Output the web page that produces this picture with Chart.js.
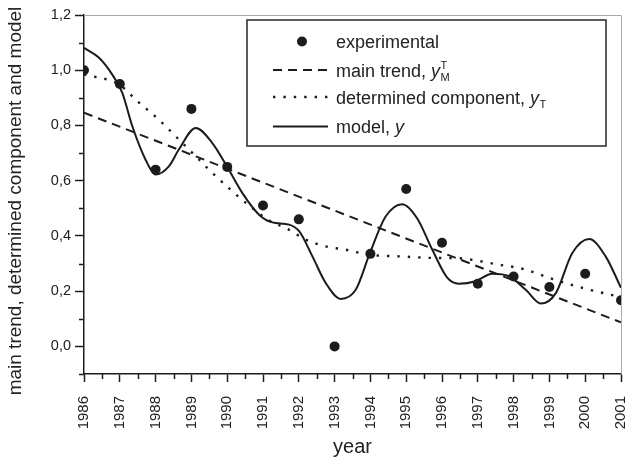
<!DOCTYPE html>
<html>
<head>
<meta charset="utf-8">
<script src="https://cdn.jsdelivr.net/npm/chart.js@4.4.1/dist/chart.umd.min.js"></script>
<style>
html,body{margin:0;padding:0;background:#fff;}
#wrap{width:634px;height:459px;position:relative;}
</style>
</head>
<body>
<div id="wrap"><canvas id="c" width="634" height="459"></canvas></div>
<script>
// ---- data ----
const years = [1986,1987,1988,1989,1990,1991,1992,1993,1994,1995,1996,1997,1998,1999,2000,2001];
const experimental = [1.00,0.95,0.64,0.86,0.65,0.51,0.46,0.00,0.335,0.57,0.375,0.227,0.253,0.215,0.263,0.167];

const trendYears = [1986,2001];
const trendValues = [0.846,0.087];

const determinedYears = [1986.00,1986.98,1987.49,1988.09,1988.65,1989.21,1989.49,1990.14,1990.70,1991.21,1991.63,1992.19,1992.75,1993.31,1993.96,1994.80,1995.92,1996.29,1997.59,1998.34,1998.99,1999.92,2001.00];
const determinedValues = [0.985,0.948,0.888,0.821,0.749,0.677,0.640,0.562,0.501,0.453,0.429,0.387,0.362,0.350,0.332,0.326,0.320,0.320,0.296,0.278,0.248,0.212,0.178];

const modelYears = [1986.00,1986.42,1986.79,1987.07,1987.35,1987.72,1988.00,1988.37,1988.65,1989.12,1989.58,1989.99,1990.42,1990.89,1991.26,1991.73,1992.01,1992.38,1992.75,1993.17,1993.59,1993.98,1994.43,1994.89,1995.30,1995.73,1996.14,1996.47,1996.94,1997.40,1997.87,1998.34,1998.76,1999.18,1999.64,2000.11,2000.57,2001.00];
const modelValues = [1.081,1.045,0.984,0.918,0.797,0.676,0.622,0.652,0.713,0.791,0.737,0.652,0.556,0.477,0.449,0.441,0.417,0.326,0.230,0.172,0.205,0.336,0.471,0.515,0.465,0.350,0.250,0.227,0.236,0.263,0.254,0.205,0.155,0.193,0.338,0.389,0.326,0.212];

const yTickValues = [0.0,0.2,0.4,0.6,0.8,1.0,1.2];
const yMinorTickValues = [-0.1,0.1,0.3,0.5,0.7,0.9,1.1];
const xMinorTickValues = [1986.5,1987.5,1988.5,1989.5,1990.5,1991.5,1992.5,1993.5,1994.5,1995.5,1996.5,1997.5,1998.5,1999.5,2000.5];

const xTitle = 'year';
const yTitle = 'main trend, determined component and model';
const legendTexts = ['experimental','main trend, ','determined component, ','model, '];
const legendSymbol = 'y';
const legendSup = ['', 'T', '', ''];
const legendSub = ['', 'M', 'T', ''];

// ---- drawing ----
const FONT = "'Liberation Sans', Arial, Helvetica, sans-serif";
const INK = '#1c1c1c';
const TEXT = '#222222';

const pts = (xs, ys) => xs.map((x, i) => ({x: x, y: ys[i]}));

const extras = {
  id: 'extras',
  beforeDatasetsDraw(chart) {
    const {ctx, chartArea: a} = chart;
    ctx.save();
    ctx.strokeStyle = '#a8a8a8';
    ctx.lineWidth = 1;
    ctx.beginPath();
    ctx.moveTo(a.left, a.top + 0.5);
    ctx.lineTo(a.right + 0.5, a.top + 0.5);
    ctx.lineTo(a.right + 0.5, a.bottom);
    ctx.stroke();
    ctx.restore();
  },
  afterDraw(chart) {
    const {ctx, chartArea: a, scales} = chart;
    const xs = scales.x, ys = scales.y;
    ctx.save();
    // minor ticks
    ctx.strokeStyle = INK;
    ctx.lineWidth = 1.5;
    ctx.beginPath();
    xMinorTickValues.forEach(v => {
      const px = Math.round(xs.getPixelForValue(v)) + 0.5;
      ctx.moveTo(px, a.bottom);
      ctx.lineTo(px, a.bottom + 5);
    });
    yMinorTickValues.forEach(v => {
      const py = Math.round(ys.getPixelForValue(v)) + 0.5;
      ctx.moveTo(a.left - 5, py);
      ctx.lineTo(a.left, py);
    });
    ctx.stroke();

    // axis titles
    ctx.fillStyle = TEXT;
    ctx.font = '20px ' + FONT;
    ctx.textAlign = 'center';
    ctx.textBaseline = 'alphabetic';
    ctx.fillText(xTitle, (a.left + a.right) / 2, 453);
    ctx.save();
    ctx.translate(21, 201);
    ctx.rotate(-Math.PI / 2);
    ctx.font = '19px ' + FONT;
    ctx.fillText(yTitle, 0, 0);
    ctx.restore();

    // legend
    const bx = 247, by = 20, bw = 359, bh = 126;
    ctx.fillStyle = '#ffffff';
    ctx.fillRect(bx, by, bw, bh);
    ctx.strokeStyle = '#333333';
    ctx.lineWidth = 1.6;
    ctx.strokeRect(bx, by, bw, bh);

    const rows = [41.5, 70, 97, 126.5];
    const lx0 = 273, lx1 = 328, tx = 336;
    const ds = chart.data.datasets;
    // row 0: marker
    ctx.fillStyle = INK;
    ctx.beginPath();
    ctx.arc(302, rows[0], 5, 0, Math.PI * 2);
    ctx.fill();
    // rows 1..3: line samples
    for (let r = 1; r <= 3; r++) {
      const d = ds[r];
      ctx.strokeStyle = d.borderColor;
      ctx.lineWidth = d.borderWidth;
      ctx.setLineDash(d.borderDash || []);
      ctx.beginPath();
      ctx.moveTo(lx0, rows[r]);
      ctx.lineTo(lx1, rows[r]);
      ctx.stroke();
    }
    ctx.setLineDash([]);
    // texts
    ctx.textAlign = 'left';
    ctx.textBaseline = 'alphabetic';
    ctx.fillStyle = TEXT;
    for (let r = 0; r < 4; r++) {
      const base = rows[r] + 6.5;
      ctx.font = '18px ' + FONT;
      ctx.fillText(legendTexts[r], tx, base);
      if (r === 0) continue;
      let x = tx + ctx.measureText(legendTexts[r]).width;
      ctx.font = 'italic 18px ' + FONT;
      ctx.fillText(legendSymbol, x, base);
      x += ctx.measureText(legendSymbol).width + 0.5;
      ctx.font = '11px ' + FONT;
      if (legendSup[r]) ctx.fillText(legendSup[r], x, base - 8);
      if (legendSub[r]) ctx.fillText(legendSub[r], x, base + 4);
    }
    ctx.restore();
  }
};

new Chart(document.getElementById('c'), {
  type: 'scatter',
  data: {
    datasets: [
      {
        label: 'experimental',
        data: pts(years, experimental),
        showLine: false,
        pointRadius: 5,
        pointHoverRadius: 5,
        pointBackgroundColor: INK,
        pointBorderColor: INK,
        pointBorderWidth: 0
      },
      {
        label: 'main trend',
        data: pts(trendYears, trendValues),
        showLine: true,
        borderColor: INK,
        borderWidth: 2,
        borderDash: [9, 6],
        pointRadius: 0,
        fill: false
      },
      {
        label: 'determined component',
        data: pts(determinedYears, determinedValues),
        showLine: true,
        borderColor: INK,
        borderWidth: 2.4,
        borderDash: [2.4, 8],
        cubicInterpolationMode: 'monotone',
        pointRadius: 0,
        fill: false
      },
      {
        label: 'model',
        data: pts(modelYears, modelValues),
        showLine: true,
        borderColor: INK,
        borderWidth: 2,
        cubicInterpolationMode: 'monotone',
        pointRadius: 0,
        fill: false
      }
    ]
  },
  options: {
    responsive: false,
    devicePixelRatio: 1,
    animation: false,
    layout: {padding: {top: 15, right: 13, left: 0, bottom: 0}},
    plugins: {legend: {display: false}, tooltip: {enabled: false}},
    scales: {
      x: {
        type: 'linear',
        min: 1986,
        max: 2001,
        afterBuildTicks: s => { s.ticks = years.map(v => ({value: v})); },
        afterFit: s => { s.height = 85; s.paddingLeft = 0; s.paddingRight = 0; },
        ticks: {
          callback: v => String(v),
          minRotation: 90,
          maxRotation: 90,
          padding: 14,
          color: TEXT,
          font: {family: FONT, size: 15}
        },
        grid: {display: true, drawOnChartArea: false, drawTicks: true, tickLength: 8, tickColor: INK, tickWidth: 1.5},
        border: {display: true, color: INK, width: 1.5}
      },
      y: {
        type: 'linear',
        min: -0.1,
        max: 1.2,
        afterBuildTicks: s => { s.ticks = yTickValues.map(v => ({value: v})); },
        afterFit: s => { s.width = 84; s.paddingTop = 0; s.paddingBottom = 0; },
        ticks: {
          callback: v => Number(v).toFixed(1).replace('.', ','),
          padding: 4,
          color: TEXT,
          font: {family: FONT, size: 14.5}
        },
        grid: {display: true, drawOnChartArea: false, drawTicks: true, tickLength: 9, tickColor: INK, tickWidth: 1.5},
        border: {display: true, color: INK, width: 1.5}
      }
    }
  },
  plugins: [extras]
});
</script>
</body>
</html>
